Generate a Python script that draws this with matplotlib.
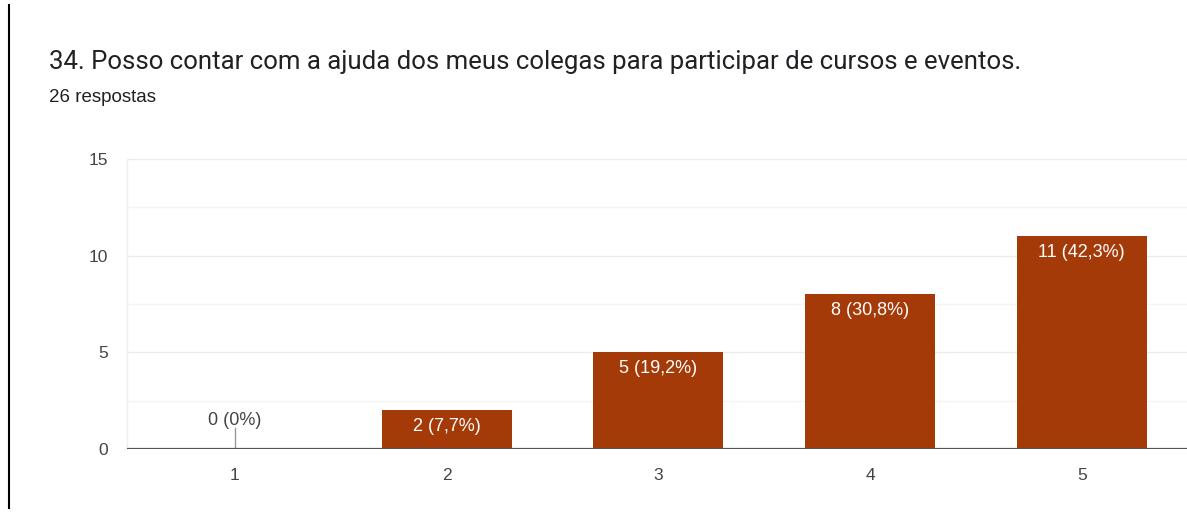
import matplotlib
matplotlib.use("Agg")
import matplotlib.pyplot as plt
from matplotlib.lines import Line2D

categories = ["1", "2", "3", "4", "5"]
counts = [0, 2, 5, 8, 11]
labels = ["0 (0%)", "2 (7,7%)", "5 (19,2%)", "8 (30,8%)", "11 (42,3%)"]
title = "34. Posso contar com a ajuda dos meus colegas para participar de cursos e eventos."
subtitle = "26 respostas"
yticks = [0, 5, 10, 15]
yminor = [2.5, 7.5, 12.5]

plt.rcParams['font.family'] = ['Liberation Sans', 'DejaVu Sans']

W, H = 1187, 514
fig = plt.figure(figsize=(W / 100, H / 100), dpi=100)
fig.patch.set_facecolor("white")

ax = fig.add_axes([127 / W, 1 - 449 / H, (W - 127) / W, (449 - 159) / H])
xpos = list(range(1, len(categories) + 1))

ax.set_xlim(0.49, 5.497)
ax.set_ylim(0, 15)

for y in yminor:
    ax.axhline(y, color="#f4f4f4", lw=1, zorder=0)
for y in yticks[1:]:
    ax.axhline(y, color="#ebebeb", lw=1, zorder=0)

bars = ax.bar(xpos, counts, width=0.615, color="#a53a09", zorder=2)

for x, c, lab in zip(xpos, counts, labels):
    if c == 0:
        ax.plot([x, x], [0, 1.1], color="#999999", lw=1, zorder=3)
        ax.annotate(lab, (x, 0), xytext=(0, 20.5), textcoords="offset points",
                    ha="center", va="center", color="#444444", fontsize=13)
    else:
        ax.annotate(lab, (x, c), xytext=(0, -11.5), textcoords="offset points",
                    ha="center", va="center", color="white", fontsize=13, zorder=4)

ax.axhline(0, color="#555555", lw=1.6, zorder=5)

for s in ["top", "right", "bottom"]:
    ax.spines[s].set_visible(False)
ax.spines["left"].set_color("#eeeeee")
ax.spines["left"].set_linewidth(1)

ax.set_xticks(xpos)
ax.set_xticklabels(categories)
ax.set_yticks(yticks)
ax.tick_params(axis="both", length=0, colors="#444444", labelsize=12.5)
ax.tick_params(axis="x", pad=14)
ax.tick_params(axis="y", pad=13.5)
for t in ax.get_yticklabels() + ax.get_xticklabels():
    t.set_color("#444444")

fig.text(49 / W, 1 - 62 / H, title, ha="left", va="center", fontsize=18.5,
         color="#202124", family=["Roboto", "DejaVu Sans"])
fig.text(49 / W, 1 - 98 / H, subtitle, ha="left", va="center", fontsize=13.5, color="#202124")

fig.add_artist(Line2D([9.5 / W, 9.5 / W], [1 - 5 / H, 1 - 508 / H], color="black", lw=1.5))

fig.savefig("out.png", dpi=100, facecolor="white")
